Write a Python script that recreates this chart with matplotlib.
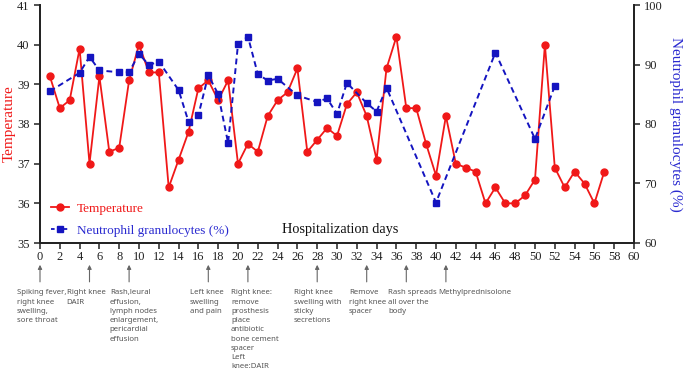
import matplotlib
matplotlib.use("Agg")
import matplotlib.pyplot as plt
import matplotlib.transforms as mtransforms
from matplotlib.lines import Line2D

# temperature per hospital day (days 1..57)
temp_days = list(range(1, 58))
temperature = [39.2, 38.4, 38.6, 39.9, 37.0, 39.2, 37.3, 37.4, 39.1, 40.0,
               39.3, 39.3, 36.4, 37.1, 37.8, 38.9, 39.1, 38.6, 39.1, 37.0,
               37.5, 37.3, 38.2, 38.6, 38.8, 39.4, 37.3, 37.6, 37.9, 37.7,
               38.5, 38.8, 38.2, 37.1, 39.4, 40.2, 38.4, 38.4, 37.5, 36.7,
               38.2, 37.0, 36.9, 36.8, 36.0, 36.4, 36.0, 36.0, 36.2, 36.6,
               40.0, 36.9, 36.4, 36.8, 36.5, 36.0, 36.8]

# neutrophil granulocytes (%) on the days they were measured
neut_days = [1, 4, 5, 6, 8, 9, 10, 11, 12, 14, 15, 16, 17, 18, 19, 20, 21, 22,
             23, 24, 26, 28, 29, 30, 31, 33, 34, 35, 40, 46, 50, 52]
neutrophil = [85.5, 88.6, 91.3, 89.0, 88.7, 88.7, 91.8, 89.9, 90.5, 85.7,
              80.4, 81.5, 88.2, 85.0, 76.8, 93.4, 94.7, 88.4, 87.3, 87.6,
              84.8, 83.7, 84.3, 81.7, 86.9, 83.5, 82.1, 86.1, 66.8, 92.0,
              77.5, 86.4]

# clinical events
event_days = [0, 5, 9, 17, 21, 28, 33, 37, 41]
event_text_x = [-2.35, 2.7, 7.05, 15.15, 19.3, 25.65, 31.2, 35.15, 40.2]
event_labels = [
    "Spiking fever,\nright knee\nswelling,\nsore throat",
    "Right knee\nDAIR",
    "Rash,leural\neffusion,\nlymph nodes\nenlargement,\npericardial\neffusion",
    "Left knee\nswelling\nand pain",
    "Right knee:\nremove\nprosthesis\nplace\nantibiotic\nbone cement\nspacer\nLeft\nknee:DAIR",
    "Right knee\nswelling with\nsticky\nsecretions",
    "Remove\nright knee\nspacer",
    "Rash spreads\nall over the\nbody",
    "Methylprednisolone",
]

red = "#f01818"
blue = "#1414c0"
serif = "Liberation Serif"

fig = plt.figure(figsize=(6.85, 3.75), dpi=100)
ax = fig.add_axes([40 / 685, 1 - 243 / 375, 594 / 685, 238 / 375])
ax2 = ax.twinx()

ax.plot(temp_days, temperature, color=red, lw=1.3, marker="o", ms=5, zorder=3)
ax2.plot(neut_days, neutrophil, color=blue, lw=1.4, ls=(0, (3, 2)), marker="s",
         ms=4.5, zorder=3)

ax.set_xlim(0, 60)
ax.set_ylim(35, 41)
ax2.set_ylim(60, 100)
ax.set_xticks(range(0, 61, 2))
ax.set_yticks(range(35, 42))
ax2.set_yticks(range(60, 101, 10))

for a in (ax, ax2):
    a.spines["top"].set_visible(False)
    for s in ("left", "right", "bottom"):
        a.spines[s].set_linewidth(1.3)
        a.spines[s].set_color("#222222")
    a.tick_params(direction="out", width=1.1, length=4, labelsize=9,
                  colors="#222222")
    for lab in a.get_xticklabels() + a.get_yticklabels():
        lab.set_fontfamily(serif)
ax.tick_params(axis="x", pad=2)

ax.set_ylabel("Temperature", color=red, fontsize=11, family=serif)
ax.yaxis.set_label_coords(-0.041, 0.5)
ax2.set_ylabel("Neutrophil granulocytes (%)", color="#2a2ad0", fontsize=11,
               family=serif, rotation=270, labelpad=14)

ax.text(0.505, 0.055, "Hospitalization days", transform=ax.transAxes,
        ha="center", va="center", fontsize=10.3, family=serif, color="#111111")

handles = [Line2D([], [], color=red, lw=1.3, marker="o", ms=5),
           Line2D([], [], color=blue, lw=1.3, ls=(0, (2, 1.5)), marker="s", ms=4.5)]
ax.legend(handles, ["Temperature", "Neutrophil granulocytes (%)"],
          loc="lower left", bbox_to_anchor=(-0.002, -0.025), frameon=False,
          handlelength=1.4, handletextpad=0.6, labelspacing=0.75,
          prop={"family": serif, "size": 9.5}, labelcolor=[red, "#2a2ad0"])

trans = mtransforms.blended_transform_factory(ax.transData, ax.transAxes)
for d, tx, lab in zip(event_days, event_text_x, event_labels):
    ax.annotate("", xy=(d, -0.08), xytext=(d, -0.175), xycoords=trans,
                textcoords=trans, annotation_clip=False,
                arrowprops=dict(arrowstyle="-|>", color="#666666", lw=0.8,
                                mutation_scale=6))
    ax.text(tx, -0.195, lab, transform=trans, ha="left", va="top",
            fontsize=5.6, family="Noto Sans", color="#555555", linespacing=1.45)

fig.savefig("out.png", dpi=100)
